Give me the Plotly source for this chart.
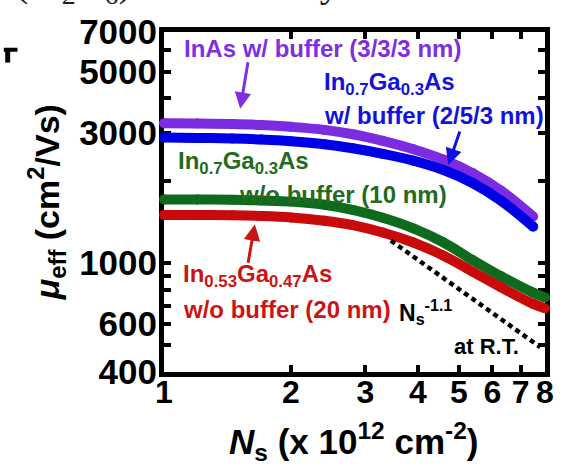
import math
import plotly.graph_objects as go

# Sheet carrier density (x 10^12 cm^-2) and effective mobility (cm^2/Vs)
ns_buf = [1.0, 1.2, 1.45, 1.7, 2.0, 2.4, 2.8, 3.3, 3.9, 4.6, 5.4, 6.3, 7.5]
mu_inas = [3250, 3240, 3225, 3200, 3150, 3070, 2960, 2800, 2610, 2390, 2130, 1840, 1480]
mu_in07_buf = [2880, 2870, 2855, 2830, 2790, 2720, 2630, 2510, 2370, 2190, 1960, 1690, 1360]

ns_nobuf = [1.0, 1.2, 1.45, 1.7, 2.0, 2.4, 2.8, 3.3, 3.9, 4.6, 5.4, 6.3, 7.5, 8.0]
mu_in07 = [1710, 1710, 1705, 1695, 1680, 1635, 1565, 1465, 1340, 1190, 1025, 895, 780, 749]
mu_in053 = [1500, 1500, 1497, 1488, 1470, 1430, 1378, 1295, 1190, 1065, 930, 815, 710, 684]

# Guide line with power-law slope Ns^-1.1 through a reference point
slope = -1.1
guide_ref = (5.2, 770)
guide_ns = [3.45, 7.8]
guide_mu = [guide_ref[1] * (n / guide_ref[0]) ** slope for n in guide_ns]

x_ticks = [1, 2, 3, 4, 5, 6, 7, 8]
x_ticktext = ['1', '2', '3', '4', '5', '6', '7', '8']
y_ticks = [400, 500, 600, 700, 800, 900, 1000, 2000, 3000, 4000, 5000, 6000, 7000]
y_ticktext = ['400', '', '600', '', '', '', '1000', '', '3000', '', '5000', '', '7000']

PURPLE = '#7B2BE0'
BLUE = '#0000E6'
GREEN = '#0E6A1C'
RED = '#C80A0A'

FONT = 'Liberation Sans, Arial, sans-serif'

# plot-area geometry in pixels
L, R, T, B = 164, 554, 27, 372
W, H = 566, 469


def px(p):
    return (p - L) / (R - L)


def py(p):
    return (B - p) / (B - T)


fig = go.Figure()

series = [
    (ns_buf, mu_inas, PURPLE),
    (ns_buf, mu_in07_buf, BLUE),
    (ns_nobuf, mu_in07, GREEN),
    (ns_nobuf, mu_in053, RED),
]
for xs, ys, col in series:
    fig.add_trace(go.Scatter(
        x=xs, y=ys, mode='lines+markers',
        line=dict(color=col, width=10, shape='spline', smoothing=1.0),
        marker=dict(color=col, size=10, symbol='circle'),
        cliponaxis=False, hoverinfo='skip'))

fig.add_trace(go.Scatter(
    x=guide_ns, y=guide_mu, mode='lines',
    line=dict(color='black', width=4.5, dash='5px,4px'),
    hoverinfo='skip'))

ann = []


def label(text, x, y, color, size=24, xanchor='left'):
    ann.append(dict(text=text, x=px(x), y=py(y), xref='paper', yref='paper',
                    xanchor=xanchor, yanchor='middle', showarrow=False,
                    font=dict(family=FONT, size=size, color=color, weight='bold')))


def arrow(x0, y0, x1, y1, color):
    ann.append(dict(text='', x=px(x1), y=py(y1), xref='paper', yref='paper',
                    ax=x0 - x1, ay=y0 - y1, axref='pixel', ayref='pixel',
                    showarrow=True, arrowhead=2, arrowsize=1.1, arrowwidth=3,
                    arrowcolor=color, standoff=0))


label('InAs w/ buffer (3/3/3 nm)', 182, 44, '#7F2FE0')
label('In<sub>0.7</sub>Ga<sub>0.3</sub>As', 326, 79, '#1212DD')
label('w/ buffer (2/5/3 nm)', 326, 112, '#1212DD')
label('In<sub>0.7</sub>Ga<sub>0.3</sub>As', 176, 159, '#236B1E')
label('w/o buffer (10 nm)', 239, 192, '#236B1E')
label('In<sub>0.53</sub>Ga<sub>0.47</sub>As', 181, 274, '#CC1414')
label('w/o buffer (20 nm)', 181, 309, '#CC1414')
label('N<sub>s</sub><sup>-1.1</sup>', 402, 311, 'black', size=23)
label('at R.T.', 459, 346, 'black', size=22)

arrow(250, 57, 242, 105, '#7F2FE0')
arrow(467, 127, 455, 162, '#1212DD')
arrow(250, 262, 257, 222, '#CC1414')

# caption line of the page above, cut by the top edge
ann.append(dict(text='n(Si<sub>2</sub>H<sub>6</sub>) and Ni alloys', x=px(362), y=py(7),
                xref='paper', yref='paper', showarrow=False,
                xanchor='right', yanchor='bottom',
                font=dict(family='Liberation Serif, Times New Roman, serif', size=40, color='#222222')))

# axis titles
ann.append(dict(text='<i>μ</i><sub>eff</sub> (cm<sup>2</sup>/Vs)', x=px(44), y=py(200),
                xref='paper', yref='paper', textangle=-90, showarrow=False,
                xanchor='center', yanchor='middle',
                font=dict(family=FONT, size=34, color='black', weight='bold')))
ann.append(dict(text='<i>N</i><sub>s</sub> (x 10<sup>12</sup> cm<sup>-2</sup>)', x=px(358), y=py(443),
                xref='paper', yref='paper', showarrow=False,
                xanchor='center', yanchor='middle',
                font=dict(family=FONT, size=35, color='black', weight='bold')))

fig.update_layout(
    width=W, height=H,
    margin=dict(l=L, r=W - R, t=T, b=H - B, pad=0),
    paper_bgcolor='white', plot_bgcolor='white',
    showlegend=False,
    font=dict(family=FONT, color='black'),
    annotations=ann,
    shapes=[
        dict(type='line', xref='paper', yref='paper', x0=px(0), x1=px(14), y0=py(45), y1=py(45),
             line=dict(color='black', width=4)),
        dict(type='line', xref='paper', yref='paper', x0=px(4), x1=px(4), y0=py(45), y1=py(58),
             line=dict(color='black', width=5)),
    ],
)

fig.update_xaxes(
    type='log',
    range=[0, math.log10(8)],
    tickvals=x_ticks, ticktext=x_ticktext,
    ticks='inside', ticklen=7, tickwidth=4, tickcolor='black',
    showline=True, linewidth=5, linecolor='black', mirror='ticks',
    showgrid=False, zeroline=False, layer='below traces',
    ticklabelstandoff=-12,
    tickfont=dict(family=FONT, size=32, color='black', weight='bold'),
)
fig.update_yaxes(
    type='log',
    range=[math.log10(400), math.log10(7000)],
    tickvals=y_ticks, ticktext=y_ticktext,
    ticks='inside', ticklen=7, tickwidth=4, tickcolor='black',
    showline=True, linewidth=5, linecolor='black', mirror='ticks',
    showgrid=False, zeroline=False, layer='below traces',
    ticklabelstandoff=-5,
    tickfont=dict(family=FONT, size=35, color='black', weight='bold'),
)

fig.write_html('out.html')
